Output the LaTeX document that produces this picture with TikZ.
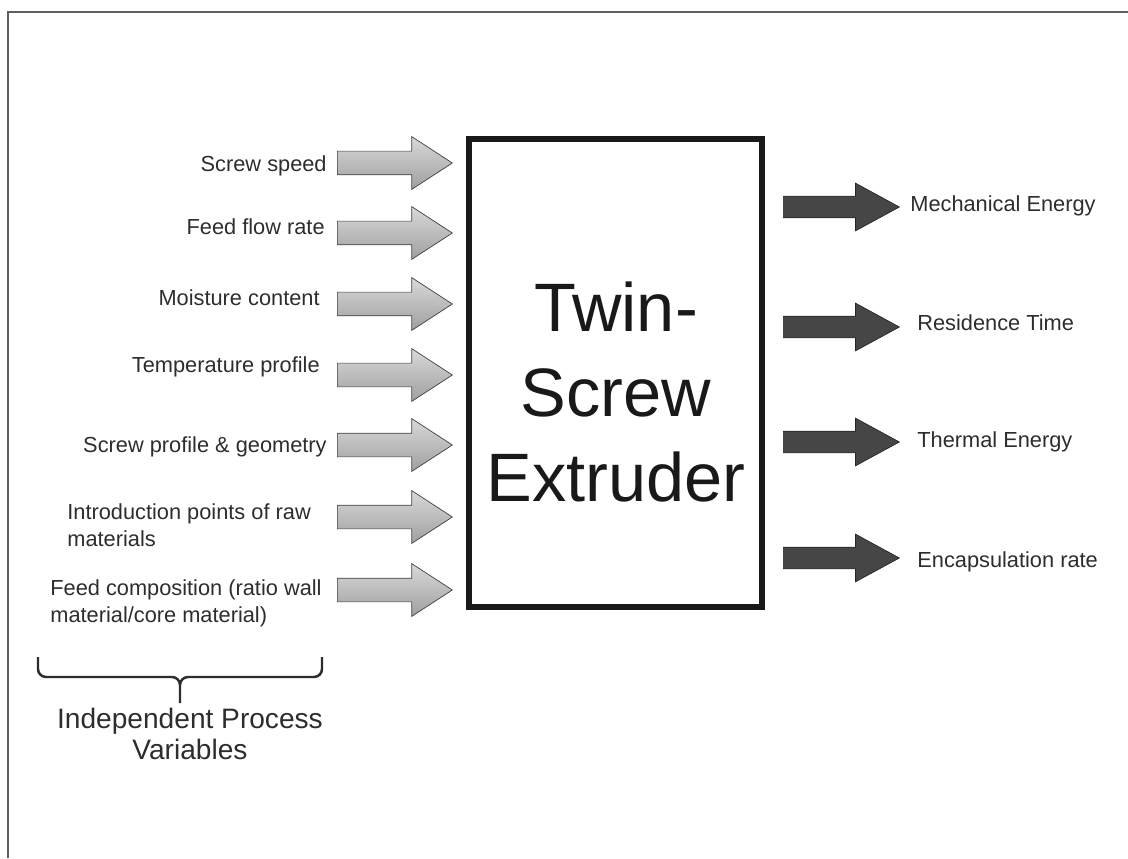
\documentclass[tikz,border=0pt]{standalone}
\usepackage{fontspec}
\setmainfont{Liberation Sans}
\usetikzlibrary{shapes.arrows}
\definecolor{framegray}{RGB}{95, 95, 95}
\definecolor{textgray}{RGB}{45, 45, 45}
\definecolor{outgray}{RGB}{70, 70, 70}

\tikzset{
  inarrow/.style={single arrow, draw=black!75, thin, top color=gray!30, bottom color=gray!75,
    single arrow head extend=0.29cm, single arrow tip angle=66, text height=0.46cm,
    inner sep=0, minimum height=2.3cm, anchor=tail},
  outarrow/.style={single arrow, draw=black!85, thin, fill=outgray,
    single arrow head extend=0.26cm, single arrow tip angle=57, text height=0.42cm,
    inner sep=0, minimum height=2.32cm, anchor=tail},
  lbl/.style={text=textgray, inner sep=0, font=\fontsize{12.4}{15.3}\selectfont}
}

\begin{document}
\begin{tikzpicture}
\useasboundingbox (0,0) rectangle (22.56,17.16);
\draw[framegray, line width=1.7pt] (0.16,0) -- (0.16,16.92) -- (22.56,16.92);

% the extruder
\node[draw=black!90, line width=3.8pt, minimum width=5.86cm, minimum height=9.36cm, inner sep=0] (extruder) at (12.31,9.70) {};
\node[text=black!90, align=center, inner sep=0, font=\fontsize{39}{48.4}\selectfont] (title) at (12.32,9.32) {Twin-\\Screw\\Extruder};

% inputs
\node[inarrow] (speed) at (6.74,13.90) {};
\node[inarrow] (flow) at (6.74,12.50) {};
\node[inarrow] (moist) at (6.74,11.08) {};
\node[inarrow] (temp) at (6.74,9.66) {};
\node[inarrow] (geom) at (6.74,8.26) {};
\node[inarrow] (intro) at (6.74,6.82) {};
\node[inarrow] (comp) at (6.74,5.36) {};

\node[lbl, anchor=base east] (speedtxt) at (6.54,13.72) {Screw speed};
\node[lbl, anchor=base east] (flowtxt) at (6.50,12.46) {Feed flow rate};
\node[lbl, anchor=base east] (moisttxt) at (6.40,11.04) {Moisture content};
\node[lbl, anchor=base east] (temptxt) at (6.40,9.72) {Temperature profile};
\node[lbl, anchor=base east] (geomtxt) at (6.54,8.12) {Screw profile \& geometry};
\node[lbl, anchor=west, align=left] (introtxt) at (1.34,6.65) {Introduction points of raw\\materials};
\node[lbl, anchor=west, align=left] (comptxt) at (1.00,5.10) {Feed composition (ratio wall\\material/core material)};

% outputs
\node[outarrow] (mech) at (15.66,13.02) {};
\node[outarrow] (resid) at (15.66,10.62) {};
\node[outarrow] (therm) at (15.66,8.32) {};
\node[outarrow] (encap) at (15.66,6.00) {};

\node[lbl, anchor=base west] (mechtxt) at (18.20,12.92) {Mechanical Energy};
\node[lbl, anchor=base west] (residtxt) at (18.34,10.56) {Residence Time};
\node[lbl, anchor=base west] (thermtxt) at (18.34,8.22) {Thermal Energy};
\node[lbl, anchor=base west] (encaptxt) at (18.34,5.82) {Encapsulation rate};

% brace
\draw[textgray, line width=1.4pt] (0.76,4.02) -- (0.76,3.78) to[out=-90,in=180] (0.92,3.62) -- (3.44,3.62) to[out=0,in=90] (3.60,3.46) -- (3.60,3.10);
\draw[textgray, line width=1.4pt] (6.44,4.02) -- (6.44,3.78) to[out=-90,in=0] (6.28,3.62) -- (3.76,3.62) to[out=180,in=90] (3.60,3.46);
\node[text=textgray, align=center, inner sep=0, font=\fontsize{16}{17.6}\selectfont] (ipv) at (3.80,2.48) {Independent Process\\Variables};
\end{tikzpicture}
\end{document}
